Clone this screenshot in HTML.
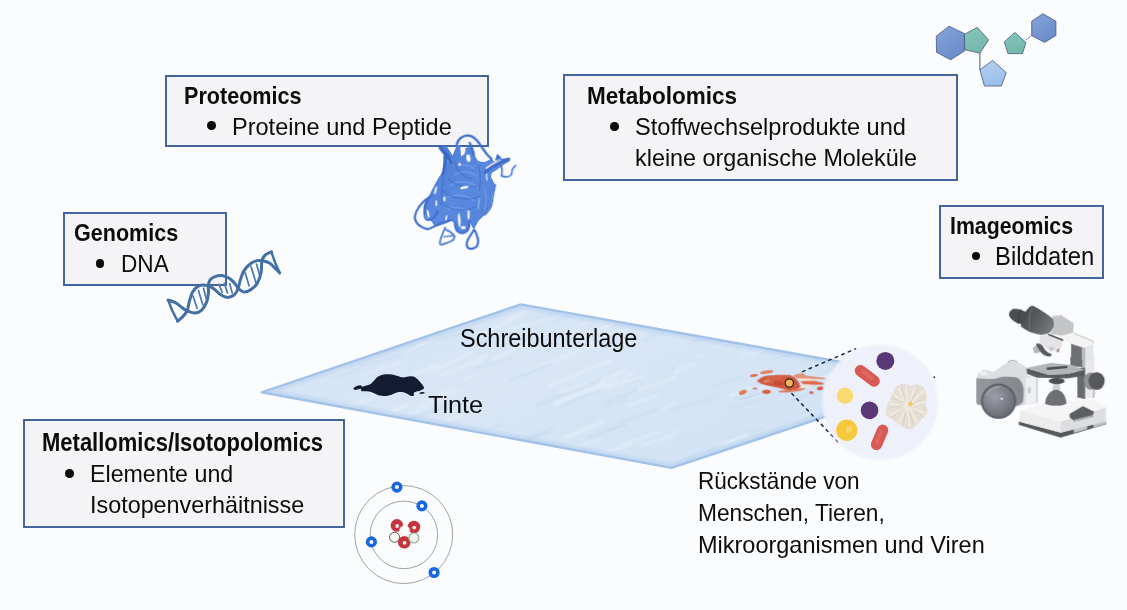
<!DOCTYPE html>
<html lang="de">
<head>
<meta charset="utf-8">
<title>Omics – Schreibunterlage</title>
<style>
html,body{margin:0;padding:0;}
body{width:1127px;height:610px;overflow:hidden;background:#fbfcfd;font-family:"Liberation Sans",sans-serif;color:#111;}
#stage{position:relative;width:1127px;height:610px;overflow:hidden;background:#fbfcfd;}
.box{position:absolute;box-sizing:border-box;border:2px solid #45659e;background:#f4f4f6;}
.t{position:absolute;white-space:nowrap;transform-origin:0 50%;color:#0c0c0c;}
.b{position:absolute;display:block;border-radius:50%;background:#0c0c0c;}
svg.art{position:absolute;left:0;top:0;width:1127px;height:610px;}
</style>
</head>
<body>
<div id="stage">
<div class="box" id="proteomics" style="left:165px;top:75px;width:324px;height:72px">
  <div class="t title" style="left:17.20px;top:7.91px;font-size:23.5px;line-height:23.5px;font-weight:bold;transform:scaleX(0.9180)">Proteomics</div>
  <i class="b" style="left:40.3px;top:44.4px;width:8.6px;height:8.6px"></i>
  <div class="t line" style="left:64.92px;top:37.58px;font-size:24px;line-height:24px;transform:scaleX(0.9803)">Proteine und Peptide</div>
</div>
<div class="box" id="genomics" style="left:63px;top:212px;width:164px;height:74px">
  <div class="t title" style="left:9.34px;top:7.71px;font-size:23.5px;line-height:23.5px;font-weight:bold;transform:scaleX(0.9164)">Genomics</div>
  <i class="b" style="left:30.5px;top:45.0px;width:8.6px;height:8.6px"></i>
  <div class="t line" style="left:55.69px;top:38.08px;font-size:24px;line-height:24px;transform:scaleX(0.9421)">DNA</div>
</div>
<div class="box" id="metabolomics" style="left:563px;top:74px;width:395px;height:107px">
  <div class="t title" style="left:21.94px;top:8.26px;font-size:24.5px;line-height:24.5px;font-weight:bold;transform:scaleX(0.9190)">Metabolomics</div>
  <i class="b" style="left:45.0px;top:46.2px;width:8.6px;height:8.6px"></i>
  <div class="t line" style="left:70.24px;top:38.88px;font-size:24px;line-height:24px;transform:scaleX(0.9827)">Stoffwechselprodukte und</div>
  <div class="t line" style="left:70.28px;top:70.28px;font-size:24px;line-height:24px;transform:scaleX(0.9738)">kleine organische Moleküle</div>
</div>
<div class="box" id="imageomics" style="left:939px;top:205px;width:165px;height:74px">
  <div class="t title" style="left:9.32px;top:8.41px;font-size:23.5px;line-height:23.5px;font-weight:bold;transform:scaleX(0.9058)">Imageomics</div>
  <i class="b" style="left:30.7px;top:44.7px;width:8.6px;height:8.6px"></i>
  <div class="t line" style="left:54.39px;top:36.94px;font-size:25px;line-height:25px;transform:scaleX(0.9530)">Bilddaten</div>
</div>
<div class="box" id="metallomics" style="left:23px;top:419px;width:322px;height:109px">
  <div class="t title" style="left:17.47px;top:8.84px;font-size:25px;line-height:25px;font-weight:bold;transform:scaleX(0.8798)">Metallomics/Isotopolomics</div>
  <i class="b" style="left:40.2px;top:48.2px;width:8.6px;height:8.6px"></i>
  <div class="t line" style="left:64.84px;top:40.88px;font-size:24px;line-height:24px;transform:scaleX(0.9668)">Elemente und</div>
  <div class="t line" style="left:65.20px;top:71.88px;font-size:24px;line-height:24px;transform:scaleX(0.9731)">Isotopenverhäitnisse</div>
</div>
<svg class="art" viewBox="0 0 1127 610" width="1127" height="610">
<defs>
  <filter id="soft" x="-10%" y="-10%" width="120%" height="120%"><feGaussianBlur stdDeviation="0.6"/></filter>
  <filter id="soft2" x="-10%" y="-10%" width="120%" height="120%"><feGaussianBlur stdDeviation="1.2"/></filter>
  <filter id="soft3" x="-20%" y="-20%" width="140%" height="140%"><feGaussianBlur stdDeviation="2.2"/></filter>
  <linearGradient id="padg" x1="0" y1="0" x2="1" y2="0.6">
    <stop offset="0" stop-color="#d4e4f5"/><stop offset="0.5" stop-color="#d8e6f6"/><stop offset="1" stop-color="#d2e3f5"/>
  </linearGradient>
  <clipPath id="padclip"><polygon points="261.7,392.3 520.7,304.4 900,372.5 900,391.8 671.6,467.9"/></clipPath>
</defs>

<!-- ===== Schreibunterlage (pad) ===== -->
<g id="pad">
  <polygon points="261.7,392.3 520.7,304.4 900,372.5 900,391.8 671.6,467.9" fill="url(#padg)"/>
  <g clip-path="url(#padclip)">
    <g stroke-linecap="round" filter="url(#soft2)">
      <g stroke="#e6f0fa" opacity="0.85"><path stroke-width="1.9" d="M480.8,334.6 L511.0,320.4"/><path stroke-width="1.7" d="M506.7,320.7 L532.2,308.5"/><path stroke-width="1.2" d="M323.3,325.6 L347.4,317.9"/><path stroke-width="1.6" d="M418.4,406.1 L459.8,390.9"/><path stroke-width="1.2" d="M885.3,319.0 L922.9,302.9"/><path stroke-width="1.9" d="M353.0,358.3 L389.0,342.1"/><path stroke-width="1.1" d="M676.1,367.9 L703.0,355.1"/><path stroke-width="1.9" d="M407.7,414.1 L431.1,404.2"/><path stroke-width="1.4" d="M561.0,357.0 L597.5,344.4"/><path stroke-width="1.5" d="M636.1,390.8 L675.5,377.5"/><path stroke-width="1.2" d="M887.7,329.7 L911.5,321.8"/><path stroke-width="1.9" d="M583.2,317.9 L615.5,307.2"/><path stroke-width="1.9" d="M822.8,359.1 L855.7,347.0"/><path stroke-width="2.1" d="M562.8,438.0 L603.9,422.0"/><path stroke-width="2.3" d="M317.6,417.2 L349.6,408.0"/><path stroke-width="1.7" d="M456.4,369.9 L487.1,355.1"/><path stroke-width="1.2" d="M384.2,329.6 L395.7,325.8"/><path stroke-width="1.7" d="M433.5,370.6 L471.0,353.0"/><path stroke-width="1.4" d="M620.7,444.5 L658.3,432.7"/><path stroke-width="1.2" d="M537.5,365.8 L577.6,354.0"/><path stroke-width="1.9" d="M389.3,346.8 L406.4,340.2"/><path stroke-width="1.9" d="M442.9,312.6 L466.1,303.1"/><path stroke-width="2.1" d="M870.9,415.6 L897.8,405.9"/><path stroke-width="2.3" d="M313.5,446.9 L349.8,435.6"/><path stroke-width="1.1" d="M523.3,371.8 L536.2,367.2"/><path stroke-width="1.1" d="M321.8,343.3 L336.4,337.2"/><path stroke-width="1.0" d="M280.1,334.7 L292.8,329.5"/><path stroke-width="1.6" d="M822.1,404.1 L836.2,398.0"/><path stroke-width="1.7" d="M505.8,330.4 L544.8,319.2"/><path stroke-width="1.4" d="M580.0,324.9 L592.6,319.6"/><path stroke-width="1.8" d="M793.9,336.2 L804.3,333.1"/><path stroke-width="2.6" d="M370.9,393.5 L381.2,389.6"/><path stroke-width="1.3" d="M815.3,416.4 L833.2,409.1"/><path stroke-width="1.4" d="M758.6,391.9 L793.7,377.2"/><path stroke-width="2.3" d="M783.1,459.7 L821.9,447.2"/><path stroke-width="1.0" d="M738.7,346.0 L765.2,335.1"/><path stroke-width="2.5" d="M297.3,353.9 L315.6,347.6"/><path stroke-width="1.6" d="M557.3,452.6 L601.0,439.6"/><path stroke-width="2.0" d="M416.7,346.0 L432.3,339.1"/><path stroke-width="2.3" d="M838.2,438.1 L863.9,429.0"/><path stroke-width="2.2" d="M332.6,411.1 L373.2,397.8"/><path stroke-width="2.3" d="M576.4,338.8 L611.8,324.0"/><path stroke-width="2.2" d="M882.4,371.4 L905.9,364.4"/><path stroke-width="2.3" d="M385.4,331.1 L400.2,326.6"/><path stroke-width="1.6" d="M370.6,436.0 L413.3,420.9"/><path stroke-width="2.0" d="M620.2,331.6 L630.3,328.7"/><path stroke-width="2.3" d="M606.5,452.0 L630.9,444.4"/><path stroke-width="1.9" d="M410.8,349.8 L429.7,341.6"/><path stroke-width="1.6" d="M440.8,374.9 L454.9,370.6"/><path stroke-width="2.5" d="M564.1,399.5 L603.6,383.7"/><path stroke-width="1.7" d="M591.0,391.8 L617.0,379.2"/><path stroke-width="1.8" d="M393.5,312.6 L428.9,296.6"/><path stroke-width="1.9" d="M729.6,395.5 L749.9,387.7"/><path stroke-width="1.4" d="M766.2,327.9 L793.9,315.9"/><path stroke-width="2.5" d="M758.8,388.2 L787.5,378.6"/><path stroke-width="2.1" d="M554.8,403.9 L581.2,393.8"/><path stroke-width="2.1" d="M560.5,392.0 L586.5,384.2"/><path stroke-width="2.5" d="M823.5,453.3 L841.6,446.6"/><path stroke-width="1.1" d="M800.8,332.6 L814.2,327.3"/><path stroke-width="2.4" d="M429.2,323.0 L461.6,312.3"/><path stroke-width="2.4" d="M375.8,419.4 L406.5,405.4"/><path stroke-width="1.8" d="M879.9,344.9 L920.9,328.3"/><path stroke-width="1.8" d="M893.7,436.9 L908.4,431.0"/><path stroke-width="1.0" d="M490.3,341.4 L510.6,334.5"/><path stroke-width="2.0" d="M623.5,378.1 L633.3,374.0"/><path stroke-width="2.6" d="M597.6,321.6 L640.8,307.5"/><path stroke-width="1.4" d="M345.0,351.8 L355.8,348.3"/><path stroke-width="1.4" d="M360.3,375.3 L401.1,362.2"/><path stroke-width="1.1" d="M372.6,449.9 L401.5,439.9"/><path stroke-width="2.5" d="M315.7,415.2 L338.6,404.4"/><path stroke-width="1.1" d="M673.4,432.2 L685.8,428.3"/><path stroke-width="2.5" d="M814.9,380.1 L835.7,372.3"/><path stroke-width="1.2" d="M446.1,331.4 L472.6,319.8"/><path stroke-width="1.5" d="M380.1,319.6 L396.0,312.8"/><path stroke-width="1.6" d="M750.9,355.5 L776.4,344.0"/><path stroke-width="1.9" d="M291.3,349.6 L301.3,346.2"/><path stroke-width="2.3" d="M397.5,383.2 L437.0,364.8"/><path stroke-width="1.8" d="M548.0,386.3 L585.1,371.2"/><path stroke-width="2.1" d="M706.4,459.4 L727.7,452.6"/><path stroke-width="1.2" d="M674.3,372.7 L694.6,363.0"/><path stroke-width="1.1" d="M323.8,423.1 L341.3,415.2"/><path stroke-width="1.4" d="M801.6,442.6 L833.0,429.1"/><path stroke-width="1.4" d="M461.7,380.9 L476.3,375.2"/><path stroke-width="2.5" d="M876.3,457.9 L903.5,446.0"/><path stroke-width="1.8" d="M471.9,365.5 L481.2,361.7"/><path stroke-width="1.4" d="M591.7,342.1 L617.0,329.8"/><path stroke-width="1.5" d="M335.6,371.9 L346.0,366.9"/><path stroke-width="2.1" d="M424.3,399.8 L451.9,390.6"/><path stroke-width="2.6" d="M723.9,443.9 L746.1,434.6"/><path stroke-width="2.3" d="M372.7,420.6 L402.6,406.3"/><path stroke-width="1.2" d="M833.0,406.1 L867.7,394.9"/><path stroke-width="2.3" d="M604.7,387.7 L642.8,375.3"/><path stroke-width="1.4" d="M642.1,445.9 L674.8,434.6"/><path stroke-width="2.3" d="M299.3,332.0 L320.2,322.3"/><path stroke-width="1.8" d="M626.3,406.2 L657.0,395.5"/><path stroke-width="1.9" d="M282.1,431.7 L316.5,418.4"/><path stroke-width="1.1" d="M688.8,321.9 L722.3,307.4"/><path stroke-width="2.6" d="M444.6,421.4 L461.1,415.9"/><path stroke-width="2.2" d="M586.2,369.4 L612.0,360.4"/><path stroke-width="1.4" d="M662.5,408.4 L674.2,403.1"/><path stroke-width="1.1" d="M740.8,357.7 L768.2,344.4"/><path stroke-width="1.5" d="M446.6,412.8 L479.6,401.3"/><path stroke-width="2.4" d="M600.3,381.7 L624.6,370.5"/><path stroke-width="1.7" d="M403.5,458.7 L442.9,439.7"/><path stroke-width="1.3" d="M788.3,457.2 L812.4,446.9"/><path stroke-width="1.8" d="M866.3,343.6 L894.4,330.7"/><path stroke-width="2.4" d="M870.7,331.9 L907.6,317.8"/><path stroke-width="1.0" d="M716.1,346.7 L755.5,331.4"/><path stroke-width="1.2" d="M282.2,385.8 L306.4,375.5"/><path stroke-width="2.2" d="M493.3,359.4 L529.4,341.8"/></g>
      <g stroke="#c3d8f0" opacity="0.8"><path stroke-width="1.3" d="M560.5,396.0 L600.8,380.2"/><path stroke-width="1.6" d="M644.2,339.7 L670.9,330.1"/><path stroke-width="1.5" d="M338.4,357.5 L351.0,353.4"/><path stroke-width="1.4" d="M306.0,459.3 L348.1,444.4"/><path stroke-width="1.0" d="M377.6,314.3 L403.9,301.8"/><path stroke-width="1.6" d="M430.0,316.5 L454.8,306.7"/><path stroke-width="1.3" d="M601.9,408.0 L628.3,398.8"/><path stroke-width="1.5" d="M452.5,461.6 L496.2,447.8"/><path stroke-width="1.6" d="M475.5,346.4 L493.9,337.7"/><path stroke-width="1.6" d="M528.2,439.0 L551.2,432.2"/><path stroke-width="1.8" d="M280.3,343.5 L320.2,327.9"/><path stroke-width="1.1" d="M526.4,323.0 L557.4,312.7"/><path stroke-width="0.9" d="M334.0,361.9 L376.4,347.8"/><path stroke-width="1.0" d="M432.8,327.2 L444.3,323.4"/><path stroke-width="0.9" d="M626.8,379.1 L642.7,373.7"/><path stroke-width="1.1" d="M679.1,329.5 L702.1,319.3"/><path stroke-width="1.0" d="M882.0,432.5 L902.0,426.3"/><path stroke-width="1.8" d="M524.5,440.2 L554.5,426.2"/><path stroke-width="1.1" d="M412.2,350.7 L447.1,336.1"/><path stroke-width="1.4" d="M325.5,325.5 L353.9,313.1"/><path stroke-width="1.4" d="M510.5,380.0 L552.0,363.9"/><path stroke-width="1.6" d="M817.2,339.4 L832.1,334.9"/><path stroke-width="1.0" d="M434.7,340.5 L469.8,330.0"/><path stroke-width="0.9" d="M869.1,444.3 L898.5,432.6"/><path stroke-width="1.1" d="M304.0,456.4 L321.6,450.4"/><path stroke-width="1.5" d="M790.7,401.5 L809.5,393.0"/><path stroke-width="1.4" d="M322.6,346.3 L351.4,337.2"/><path stroke-width="1.1" d="M453.7,449.6 L469.3,442.0"/><path stroke-width="1.4" d="M556.3,321.1 L571.5,314.9"/><path stroke-width="1.5" d="M361.6,366.3 L402.0,354.6"/><path stroke-width="0.8" d="M708.6,399.7 L722.1,393.2"/><path stroke-width="1.4" d="M844.3,417.1 L884.5,397.7"/><path stroke-width="0.9" d="M579.0,421.6 L599.6,415.7"/><path stroke-width="1.5" d="M618.6,422.6 L658.8,409.0"/><path stroke-width="1.7" d="M771.8,449.3 L793.2,441.8"/><path stroke-width="1.4" d="M820.1,374.6 L856.8,363.1"/><path stroke-width="0.9" d="M667.5,369.4 L696.6,358.8"/><path stroke-width="1.2" d="M676.4,461.0 L715.9,447.6"/><path stroke-width="0.9" d="M735.7,399.1 L760.4,391.3"/><path stroke-width="1.0" d="M745.1,316.5 L774.6,305.0"/><path stroke-width="1.1" d="M713.0,386.6 L743.7,377.3"/><path stroke-width="1.0" d="M287.0,357.2 L318.5,343.2"/><path stroke-width="1.1" d="M841.5,411.0 L866.3,403.4"/><path stroke-width="1.7" d="M692.9,341.8 L717.1,333.9"/><path stroke-width="0.9" d="M825.8,369.7 L854.3,357.6"/><path stroke-width="1.8" d="M587.8,437.6 L626.2,424.4"/><path stroke-width="1.0" d="M451.6,337.4 L475.7,327.0"/><path stroke-width="1.6" d="M536.7,405.9 L562.3,395.1"/><path stroke-width="1.7" d="M888.9,379.9 L900.3,374.4"/><path stroke-width="1.6" d="M305.7,418.3 L333.9,406.4"/><path stroke-width="1.6" d="M291.9,332.4 L315.6,320.9"/><path stroke-width="1.2" d="M427.2,333.1 L438.2,329.2"/><path stroke-width="1.5" d="M670.6,410.3 L708.1,399.2"/><path stroke-width="1.3" d="M403.6,383.3 L418.4,376.1"/><path stroke-width="1.5" d="M722.8,338.9 L741.1,331.3"/><path stroke-width="1.6" d="M602.7,404.2 L637.2,390.2"/><path stroke-width="0.9" d="M841.9,325.1 L883.1,311.1"/><path stroke-width="1.4" d="M561.2,405.8 L600.8,389.7"/><path stroke-width="1.5" d="M825.2,431.5 L866.1,415.5"/><path stroke-width="1.5" d="M407.0,420.3 L444.2,407.1"/><path stroke-width="1.3" d="M412.2,447.0 L455.7,434.3"/><path stroke-width="1.1" d="M770.3,360.1 L811.1,347.2"/><path stroke-width="1.3" d="M331.3,378.1 L359.6,368.8"/><path stroke-width="1.0" d="M297.6,433.4 L309.3,429.6"/><path stroke-width="1.3" d="M487.7,430.2 L501.4,423.9"/><path stroke-width="1.3" d="M728.6,438.0 L762.0,428.1"/><path stroke-width="1.1" d="M868.5,324.9 L885.3,318.5"/><path stroke-width="1.4" d="M731.9,407.8 L759.4,399.1"/><path stroke-width="1.0" d="M473.3,369.2 L511.9,357.4"/><path stroke-width="1.0" d="M807.5,457.3 L834.6,447.3"/></g>
    </g>
    <polygon points="261.7,392.3 520.7,304.4 900,372.5 900,391.8 671.6,467.9" fill="none" stroke="#b7d0ee" stroke-width="9" opacity="0.55" filter="url(#soft2)"/>
  </g>
  <polygon points="261.7,392.3 520.7,304.4 900,372.5 900,391.8 671.6,467.9" fill="none" stroke="#a2c2e9" stroke-width="2.4" stroke-linejoin="round"/>
</g>

<!-- ===== Tinte (ink blob) ===== -->
<g id="ink" fill="#131c32" transform="translate(340 365) scale(0.08873)">
  <path d="M150,266 C160,250 172,244 186,240 C204,234 222,226 236,230 C244,234 246,242 252,244 C268,240 284,238 300,232 C320,226 336,220 350,210 C366,198 378,184 390,170 C402,154 414,140 430,130 C446,120 462,113 480,110 C506,104 534,104 560,105 C588,108 614,114 640,120 C668,128 694,140 720,140 C744,138 766,128 790,128 C812,128 832,130 850,140 C870,154 886,172 900,190 C916,206 930,222 940,240 C946,248 948,258 945,266 C934,278 916,284 900,290 C886,294 872,294 860,300 C848,306 832,310 830,320 C830,328 838,334 835,340 C826,348 812,352 800,350 C782,342 768,328 750,320 C734,312 716,306 700,305 C680,304 660,304 640,310 C620,316 600,328 580,335 C560,342 540,348 520,350 C496,350 472,350 450,345 C428,340 410,328 390,320 C370,312 350,304 330,300 C310,296 290,296 270,295 C258,294 246,296 240,290 C234,284 240,272 235,268 C224,266 212,272 200,275 C188,278 176,284 165,280 C158,278 150,272 150,266 Z"/>
  <ellipse cx="925" cy="315" rx="30" ry="10" transform="rotate(-6 925 315)"/>
</g>

<!-- ===== blood / residue spot ===== -->
<g id="spot" transform="translate(735 360) scale(0.08873)">
  <path d="M60,450 L300,370" stroke="#aab3c4" stroke-width="5" fill="none" opacity="0.8"/>
  <g filter="url(#soft3)">
    <!-- right fingers (lighter) -->
    <path d="M650,176 C690,160 730,148 762,150 C780,158 790,170 802,176 C870,184 940,192 1012,200 C1016,206 1014,212 1008,216 C940,216 870,214 802,212 C766,210 730,206 700,204 Z" fill="#e29078"/>
    <path d="M740,236 C800,232 850,232 900,236 C936,242 970,250 1000,262 C1000,268 996,274 990,276 C944,280 896,280 850,276 C818,274 786,270 756,266 Z" fill="#dc6a4c"/>
    <path d="M490,352 C530,344 566,340 600,336 C634,330 668,322 700,320 C734,318 768,318 800,320 C782,332 762,340 740,346 C708,354 674,358 640,360 C594,366 546,368 500,366 C492,362 488,356 490,352 Z" fill="#e0805f"/>
    <path d="M700,206 C780,206 860,214 950,222 C880,232 800,236 740,238 Z" fill="#f4dccf"/>
    <path d="M740,268 C790,280 850,286 900,290 C850,306 790,316 720,322 C730,304 738,286 740,268 Z" fill="#f3e2dc" opacity="0.9"/>
    <!-- main body -->
    <path d="M245,236 C268,216 294,198 320,186 C372,176 426,172 480,170 C528,168 576,168 620,170 C640,176 652,188 662,204 C690,240 720,280 740,300 C716,318 690,330 660,332 C640,336 620,340 600,340 C572,334 546,326 520,320 C480,312 440,304 400,296 C366,288 332,280 300,270 C280,260 260,248 245,236 Z" fill="#d05a40"/>
    <path d="M330,200 C400,186 480,182 560,184 C520,210 470,236 420,262 C380,250 350,228 330,200 Z" fill="#d96a4c" opacity="0.7"/>
    <path d="M440,226 C500,232 540,252 560,286 C520,296 470,290 430,276 Z" fill="#b9472f" opacity="0.55"/>
    <path d="M650,180 C690,200 720,240 736,296 C700,290 670,260 650,180 Z" fill="#c24e3a" opacity="0.8"/>
    <ellipse cx="355" cy="238" rx="42" ry="12" fill="#e8a08a" opacity="0.7" transform="rotate(-14 355 238)"/>
    <!-- droplets -->
    <ellipse cx="357" cy="136" rx="76" ry="19" fill="#e17c5c" transform="rotate(-8 357 136)"/>
    <ellipse cx="213" cy="176" rx="46" ry="15" fill="#dd6a4a" transform="rotate(-8 213 176)"/>
    <ellipse cx="225" cy="322" rx="28" ry="10" fill="#cf6a55"/>
    <ellipse cx="88" cy="364" rx="46" ry="24" fill="#e07a56" transform="rotate(-22 88 364)"/>
    <ellipse cx="355" cy="358" rx="49" ry="24" fill="#d9603f"/>
    <ellipse cx="958" cy="320" rx="36" ry="20" fill="#d9553c" transform="rotate(-8 958 320)"/>
    <ellipse cx="862" cy="368" rx="22" ry="16" fill="#d9553c"/>
  </g>
  <circle cx="612" cy="260" r="47" fill="#f2b45c" stroke="#2a1c14" stroke-width="13" filter="url(#soft2)"/>
</g>

<!-- ===== dotted zoom lines ===== -->
<g fill="none" stroke="#1d2848" stroke-width="1.5" stroke-dasharray="2.6 4.5" stroke-linecap="round">
  <path d="M802.6,371.6 L855.7,348.8"/>
  <path d="M791.8,393.6 L837.8,441.7"/>
</g>
<circle cx="934.2" cy="377.3" r="1" fill="#2a2f55"/>

<!-- ===== magnifier circle with microbes (coords in 4.877x zoom space of region 815,340) ===== -->
<g id="lens">
  <circle cx="880.2" cy="402.4" r="57.8" fill="#eef1f9" filter="url(#soft2)"/>
  <g transform="translate(815 340) scale(0.20505)">
    <g filter="url(#soft3)">
      <circle cx="343" cy="102" r="44" fill="#5a3878"/>
      <circle cx="266" cy="343" r="43" fill="#5a3878"/>
      <circle cx="146" cy="272" r="40" fill="#f9da70"/>
      <circle cx="155" cy="440" r="52" fill="#f6c93e"/>
      <circle cx="166" cy="436" r="16" fill="#f9d868" opacity="0.8"/>
      <path d="M222,150 L288,200" stroke="#d95a55" stroke-width="56" stroke-linecap="round"/>
      <path d="M232,152 L276,186" stroke="#e27770" stroke-width="18" stroke-linecap="round" opacity="0.55"/>
      <path d="M330,440 L300,510" stroke="#d95a55" stroke-width="55" stroke-linecap="round"/>
      <path d="M322,446 L300,500" stroke="#e27770" stroke-width="16" stroke-linecap="round" opacity="0.5"/>
    </g>
    <g id="fungus">
      <path filter="url(#soft3)" fill="#e5dfd6" d="M400,225 C410,216 420,212 430,212 C444,212 456,222 470,222 C482,222 490,214 500,215 C514,218 528,228 535,240 C542,252 546,266 545,280 C544,294 538,306 540,320 C542,332 550,340 548,350 C544,364 530,374 520,385 C512,394 508,404 500,410 C490,420 482,432 470,435 C456,438 442,432 430,425 C420,418 410,412 400,405 C392,398 384,390 375,385 C366,380 354,378 350,370 C344,360 342,346 345,335 C348,322 356,312 360,300 C364,290 370,280 375,270 C380,262 380,252 385,245 C388,238 394,230 400,225 Z"/>
      <g stroke="#f3efe9" stroke-width="7" fill="none" opacity="0.9" stroke-linecap="round" filter="url(#soft2)">
        <path d="M450,318 L408,238"/><path d="M452,316 L444,226"/><path d="M456,316 L486,230"/><path d="M460,318 L526,250"/>
        <path d="M462,322 L536,300"/><path d="M460,328 L534,356"/><path d="M456,332 L500,400"/><path d="M452,334 L462,424"/>
        <path d="M448,332 L410,400"/><path d="M446,328 L362,366"/><path d="M446,322 L366,310"/><path d="M448,320 L384,262"/>
      </g>
      <g stroke="#cfc6b9" stroke-width="3" fill="none" opacity="0.8" stroke-linecap="round">
        <path d="M440,300 L424,236"/><path d="M468,300 L506,232"/><path d="M478,316 L540,276"/><path d="M476,336 L528,376"/>
        <path d="M460,346 L482,420"/><path d="M440,344 L432,416"/><path d="M430,334 L376,378"/><path d="M430,316 L356,334"/><path d="M434,306 L372,282"/>
      </g>
      <circle cx="465" cy="312" r="12" fill="#f2c872" filter="url(#soft2)"/>
    </g>
  </g>
</g>

<g id="dna" transform="translate(162 245) scale(0.13602)" fill="none" stroke="#436fa6" stroke-linecap="round" stroke-linejoin="round">
<g stroke-width="13" stroke="#4f7bb0">
<path d="M228,375 L258,465"/>
<path d="M268,335 L300,440"/>
<path d="M305,318 L326,395"/>
<path d="M420,290 L442,348"/>
<path d="M458,282 L482,352"/>
<path d="M498,285 L516,352"/>
<path d="M612,205 L640,300"/>
<path d="M655,160 L690,275"/>
<path d="M695,140 L716,215"/>
</g>
<path stroke-width="22" d="M115.0,560.0 C120.8,555.0 138.3,542.5 150.0,530.0 C161.7,517.5 176.7,503.3 185.0,485.0 C193.3,466.7 193.3,443.3 200.0,420.0 C206.7,396.7 212.5,365.3 225.0,345.0 C237.5,324.7 255.8,305.5 275.0,298.0 C294.2,290.5 321.7,295.5 340.0,300.0 C358.3,304.5 370.8,314.7 385.0,325.0 C399.2,335.3 410.0,352.0 425.0,362.0 C440.0,372.0 457.5,384.0 475.0,385.0 C492.5,386.0 515.8,378.8 530.0,368.0 C544.2,357.2 552.5,338.0 560.0,320.0 C567.5,302.0 568.0,281.7 575.0,260.0 C582.0,238.3 589.5,210.3 602.0,190.0 C614.5,169.7 633.7,150.5 650.0,138.0 C666.3,125.5 685.8,118.8 700.0,115.0 C714.2,111.2 720.0,112.2 735.0,115.0 C750.0,117.8 772.5,121.2 790.0,132.0 C807.5,142.8 827.5,167.8 840.0,180.0 C852.5,192.2 860.8,200.8 865.0,205.0"/>
<path stroke-width="22" d="M45.0,405.0 C54.2,408.3 82.5,415.5 100.0,425.0 C117.5,434.5 135.8,452.0 150.0,462.0 C164.2,472.0 170.0,478.7 185.0,485.0 C200.0,491.3 222.5,500.8 240.0,500.0 C257.5,499.2 275.3,493.3 290.0,480.0 C304.7,466.7 319.3,441.7 328.0,420.0 C336.7,398.3 340.0,370.0 342.0,350.0 C344.0,330.0 338.3,315.3 340.0,300.0 C341.7,284.7 343.7,269.3 352.0,258.0 C360.3,246.7 375.3,237.5 390.0,232.0 C404.7,226.5 421.7,222.3 440.0,225.0 C458.3,227.7 482.5,236.3 500.0,248.0 C517.5,259.7 535.0,283.0 545.0,295.0 C555.0,307.0 550.8,311.7 560.0,320.0 C569.2,328.3 585.0,343.3 600.0,345.0 C615.0,346.7 633.3,340.5 650.0,330.0 C666.7,319.5 687.0,302.8 700.0,282.0 C713.0,261.2 722.2,232.8 728.0,205.0 C733.8,177.2 729.7,137.2 735.0,115.0 C740.3,92.8 748.3,82.8 760.0,72.0 C771.7,61.2 797.5,53.7 805.0,50.0"/>
<path stroke-width="18" d="M45,405 Q70,480 115,560"/>
<path stroke-width="18" d="M805,50 Q826,126 865,205"/>
</g>
<g id="molecules" stroke="#41587c" stroke-width="0.8" stroke-linejoin="round">
  <defs>
    <linearGradient id="hexg" x1="0" y1="0" x2="0.6" y2="1"><stop offset="0" stop-color="#86a3d8"/><stop offset="1" stop-color="#6c8ccb"/></linearGradient>
    <linearGradient id="tealg" x1="0" y1="0" x2="0.4" y2="1"><stop offset="0" stop-color="#86c6ba"/><stop offset="1" stop-color="#75b8ad"/></linearGradient>
    <linearGradient id="lbg" x1="0" y1="0" x2="0.3" y2="1"><stop offset="0" stop-color="#b4d0f2"/><stop offset="1" stop-color="#9cc0ec"/></linearGradient>
  </defs>
  <path d="M979.9,53.1 L979.9,69.8" fill="none" stroke="#4a5a6c" stroke-width="1"/>
  <path d="M1026,39.9 L1031.7,35.6" fill="none" stroke="#7f8ea0" stroke-width="1"/>
  <polygon points="949,26.2 964.4,33.6 964.4,51.1 950.7,59.8 936.5,52.3 936.3,36.1" fill="url(#hexg)"/>
  <polygon points="977.4,27.4 988.6,39.9 979.9,53.1 964.9,49.8 964.4,34.4" fill="url(#tealg)"/>
  <polygon points="992.6,60.5 1006.3,72.7 1001.3,86 984.4,86 979.9,69.8" fill="url(#lbg)"/>
  <polygon points="1014.7,32.4 1026,42.4 1022.5,53.6 1008,53.6 1004.3,41.9" fill="url(#tealg)"/>
  <polygon points="1042.9,13.7 1055.9,21.2 1055.9,35.6 1044.6,42.4 1031.7,35.6 1031.7,21.2" fill="url(#hexg)"/>
</g>
<g id="atom">
<circle cx="403.7" cy="534.6" r="49" fill="none" stroke="#8c8c8c" stroke-width="0.8"/>
<circle cx="403.9" cy="534.9" r="33.8" fill="none" stroke="#8c8c8c" stroke-width="0.8"/>
<circle cx="396.9" cy="487.1" r="3.8" fill="#ffffff" stroke="#1767e0" stroke-width="3.6"/>
<circle cx="421.9" cy="505.9" r="3.8" fill="#ffffff" stroke="#1767e0" stroke-width="3.6"/>
<circle cx="371.4" cy="541.9" r="3.8" fill="#ffffff" stroke="#1767e0" stroke-width="3.6"/>
<circle cx="434.1" cy="572.5" r="3.8" fill="#ffffff" stroke="#1767e0" stroke-width="3.6"/>
<g filter="url(#soft)">
<circle cx="396.9" cy="525.4" r="6.3" fill="#c5353f"/>
<circle cx="397.2" cy="526.0" r="1.9" fill="#f4e9e6"/>
<circle cx="413.9" cy="527" r="6.3" fill="#c5353f"/>
<circle cx="414.2" cy="527.6" r="1.9" fill="#f4e9e6"/>
<circle cx="404.3" cy="542.2" r="6.3" fill="#c5353f"/>
<circle cx="404.6" cy="542.8000000000001" r="1.9" fill="#f4e9e6"/>
<circle cx="394.6" cy="537.3" r="5" fill="#f7f7f3" stroke="#4a4a3a" stroke-width="0.9"/>
<circle cx="413.9" cy="538" r="5" fill="#f3f7f0" stroke="#8fb89a" stroke-width="1.2"/>
<circle cx="404.7" cy="530.7" r="5.2" fill="#fbfbf9" stroke="#e6d6d2" stroke-width="0.6"/>
</g>
</g>
<!-- ===== protein tangle (coords in 9.382x zoom space of region 410,130) ===== -->
<g id="protein" transform="translate(410 130) scale(0.10659)" stroke-linecap="round" stroke-linejoin="round">
  <defs>
    <linearGradient id="protg" x1="0" y1="0" x2="1" y2="1"><stop offset="0" stop-color="#4a7ad4"/><stop offset="0.5" stop-color="#5a89de"/><stop offset="1" stop-color="#4f7fd8"/></linearGradient>
  </defs>
  <!-- body -->
  <path filter="url(#soft3)" fill="url(#protg)" d="M280,160 C300,150 320,148 340,150 C362,178 384,210 400,240 C412,206 426,172 440,140 C450,140 460,144 470,150 C474,184 478,218 480,250 C492,222 506,194 520,170 C540,162 560,158 580,160 C588,184 594,208 600,230 C612,252 626,272 640,290 C660,296 680,300 700,300 C720,292 742,282 760,270 C774,280 788,292 800,300 C816,290 834,280 850,270 C876,266 904,264 930,265 C934,274 936,282 935,290 C914,304 892,318 870,330 C852,344 836,356 820,370 C804,382 786,392 770,400 C764,414 760,428 760,440 C774,466 788,492 800,516 C792,550 780,584 770,616 C766,650 762,684 760,716 C742,744 722,770 700,796 C680,816 660,836 640,856 C626,882 612,910 600,936 C586,912 572,886 560,860 C556,886 550,912 545,936 C530,948 516,958 500,966 C480,962 460,954 440,946 C432,922 426,900 420,876 C406,866 394,856 380,846 C354,856 326,866 300,876 C276,884 252,890 230,896 C218,884 208,870 200,856 C182,844 166,830 150,816 C140,784 132,750 130,716 C146,682 162,648 180,616 C196,582 212,548 230,516 C246,486 262,458 280,430 C288,426 294,422 300,420 C304,390 308,360 310,330 C314,300 318,270 320,240 C306,214 292,186 280,160 Z"/>
  <!-- lighter interior texture -->
  <g fill="none" stroke="#7ea6ea" stroke-width="14" opacity="0.55" filter="url(#soft3)">
    <path d="M420,420 C470,380 560,380 620,430"/>
    <path d="M380,520 C430,470 560,470 640,540"/>
    <path d="M340,640 C400,600 520,600 600,660"/>
    <path d="M360,740 C420,720 500,730 560,770"/>
    <path d="M460,330 C500,320 560,330 600,360"/>
    <path d="M700,560 C720,620 720,680 700,740"/>
  </g>
  <g fill="none" stroke="#3c6ccc" stroke-width="12" opacity="0.55" filter="url(#soft2)">
    <path d="M360,460 C420,520 540,560 660,520"/>
    <path d="M300,560 C380,640 520,680 660,620"/>
    <path d="M280,680 C360,740 480,780 620,720"/>
    <path d="M420,300 C440,380 500,440 580,460"/>
    <path d="M640,330 C660,400 670,480 650,560"/>
    <path d="M320,440 C300,520 290,600 300,680"/>
  </g>
  <!-- holes (background showing through) -->
  <g fill="#f6f8fc" filter="url(#soft3)">
    <ellipse cx="500" cy="205" rx="17" ry="36" transform="rotate(18 500 205)"/>
    <ellipse cx="548" cy="264" rx="20" ry="36" transform="rotate(-8 548 264)"/>
    <ellipse cx="465" cy="322" rx="12" ry="15"/>
    <ellipse cx="362" cy="286" rx="8" ry="22"/>
    <path d="M640,236 C670,226 710,236 750,262 C730,280 700,292 676,290 C660,276 648,256 640,236 Z"/>
    <ellipse cx="832" cy="398" rx="22" ry="28" transform="rotate(20 832 398)"/>
    <ellipse cx="240" cy="566" rx="9" ry="40" transform="rotate(14 240 566)"/>
    <ellipse cx="322" cy="646" rx="10" ry="24"/>
    <ellipse cx="246" cy="686" rx="8" ry="30"/>
    <ellipse cx="170" cy="786" rx="10" ry="38" transform="rotate(-12 170 786)"/>
    <ellipse cx="340" cy="826" rx="8" ry="28" transform="rotate(10 340 826)"/>
    <ellipse cx="462" cy="846" rx="12" ry="66" transform="rotate(-4 462 846)"/>
    <ellipse cx="550" cy="796" rx="10" ry="44"/>
    <ellipse cx="500" cy="916" rx="24" ry="16"/>
  </g>
  <!-- highlights -->
  <g filter="url(#soft3)">
    <ellipse cx="510" cy="540" rx="40" ry="13" fill="#eef4fd" transform="rotate(-14 510 540)"/>
    <path d="M720,356 C760,324 800,304 850,290" stroke="#f7ebe4" stroke-width="18" fill="none"/>
    <path d="M716,400 L722,468" stroke="#e6eefb" stroke-width="12" fill="none"/>
    <path d="M650,646 L640,736" stroke="#a9c3f0" stroke-width="12" fill="none" opacity="0.8"/>
  </g>
  <!-- outer loops / strands -->
  <g fill="none" stroke="#3d6ecf" filter="url(#soft2)">
    <path stroke-width="22" d="M440,135 C450,80 500,50 545,50 C600,55 640,100 680,170 C710,220 740,250 765,270"/>
    <path stroke-width="20" d="M560,120 C580,160 596,200 600,236"/>
    <path stroke-width="34" stroke="#3a68c6" d="M284,164 C300,190 320,210 340,230 C360,260 372,280 380,300"/>
    <path stroke-width="24" stroke="#3a68c6" d="M326,244 C332,290 328,340 318,380 C312,400 306,412 300,422"/>
    <path stroke-width="20" d="M200,616 C130,660 60,716 45,816 C50,880 100,916 170,931 C200,920 230,896 300,876 C330,866 360,856 380,846"/>
    <path stroke-width="20" d="M170,646 C140,690 125,740 140,816 C150,850 190,856 230,816 C245,790 255,780 260,766"/>
    <path stroke-width="17" stroke="#4b7bd8" d="M330,916 C310,960 290,1010 280,1056 C282,1072 290,1078 300,1074 C340,1064 380,1046 400,1036 C415,1020 420,1006 420,996 C400,970 370,946 340,936"/>
    <path stroke-width="13" stroke="#4b7bd8" d="M318,1000 L404,992"/>
    <path stroke-width="20" d="M600,936 C580,976 550,1006 540,1036 C528,1066 530,1096 550,1110 C580,1122 620,1106 630,1086 C645,1056 640,1016 625,980 C618,960 612,950 610,946"/>
    <path stroke-width="20" d="M420,876 C425,910 430,936 440,946 C460,966 480,970 500,966 C525,960 540,946 545,936 C555,916 560,886 560,856"/>
    <path stroke-width="30" d="M704,398 C740,370 780,340 800,330 C850,300 890,280 926,274"/>
    <path stroke-width="10" fill="#3d6ecf" d="M820,230 L852,262 L804,282 Z"/>
    <path stroke-width="16" stroke="#4b7bd8" d="M990,335 C975,350 962,366 960,372 C955,390 955,410 950,420 C935,436 915,442 900,440 C885,438 870,434 860,430"/>
    <path stroke-width="16" d="M856,330 C866,360 868,390 860,428"/>
    <path stroke-width="18" stroke="#4b7bd8" d="M800,516 C790,560 776,620 768,690 C760,730 730,770 700,796"/>
  </g>
</g>

<!-- ===== camera + microscope ===== -->
<g id="scope">
  <defs>
    <radialGradient id="camlens" cx="0.38" cy="0.35" r="0.75"><stop offset="0" stop-color="#9c9fa7"/><stop offset="0.55" stop-color="#7e8189"/><stop offset="1" stop-color="#64676e"/></radialGradient>
    <linearGradient id="barrel" x1="0" y1="0" x2="1" y2="0.5"><stop offset="0" stop-color="#46484b"/><stop offset="0.55" stop-color="#595b5e"/><stop offset="1" stop-color="#737578"/></linearGradient>
    <linearGradient id="cambody" x1="0" y1="0" x2="1" y2="0"><stop offset="0" stop-color="#96989e"/><stop offset="1" stop-color="#85878d"/></linearGradient>
  </defs>
  <!-- lower part: coords in 7.173x zoom space of region (970,360) -->
  <g transform="translate(970 360) scale(0.13941)" filter="url(#soft3)">
    <!-- camera -->
    <g id="camera">
      <path d="M45,130 C50,100 70,80 100,70 C124,66 148,86 170,85 C198,68 224,46 250,30 C262,20 276,12 290,10 C312,8 334,12 350,20 C370,28 390,36 400,50 C408,70 410,90 412,112 L476,130 L476,312 L400,322 L330,332 L60,322 C50,318 46,310 45,300 Z" fill="#dcdde0"/>
      <path d="M45,132 C86,134 128,138 170,135 C192,132 210,122 230,120 C264,118 298,120 330,125 C348,132 362,144 370,160 C380,178 384,198 385,220 C386,246 384,274 380,300 C368,316 350,326 330,330 L60,322 C50,318 46,310 45,300 Z" fill="url(#cambody)"/>
      <path d="M400,122 L476,132 L476,312 L400,322 Z" fill="#eeeff0"/>
      <path d="M476,132 L486,134 L486,306 L476,312 Z" fill="#c9cacd"/>
      <rect x="417" y="196" width="17" height="42" rx="6" fill="#b6c6d8"/>
      <ellipse cx="100" cy="98" rx="26" ry="16" fill="#eff0f2"/>
      <path d="M272,14 C290,-2 320,-2 340,14" stroke="#a9abb0" stroke-width="8" fill="none"/>
      <circle cx="205" cy="295" r="127" fill="#5f6269"/>
      <circle cx="205" cy="295" r="112" fill="url(#camlens)"/>
      <path d="M120,250 C140,214 176,192 216,190" stroke="#b4b7be" stroke-width="10" fill="none" opacity="0.6" stroke-linecap="round"/>
      <circle cx="228" cy="278" r="7.5" fill="#f6f7f9"/>
    </g>
    <!-- base -->
    <g id="base">
      <path d="M350,440 L650,520 L975,440 L975,462 L650,556 L350,466 Z" fill="#56585c"/>
      <path d="M745,497 L840,472 L840,496 L745,523 Z" fill="#c7c8cb"/>
      <path d="M885,462 L975,440 L975,458 L885,484 Z" fill="#bfc0c3"/>
      <path d="M360,362 L650,440 L650,521 L350,441 Z" fill="#ededee"/>
      <path d="M650,440 L975,340 L975,441 L650,521 Z" fill="#dddee1"/>
      <path d="M360,362 L530,310 L880,280 L975,330 L975,342 L650,441 Z" fill="#f5f5f6"/>
      <path d="M715,386 L810,330 L890,370 L882,396 L740,431 L715,411 Z" fill="#5c5e62"/>
      <path d="M740,431 L882,396 L884,408 L742,444 Z" fill="#a5a6a9"/>
    </g>
    <!-- arm lower -->
    <path d="M825,-10 L892,-30 L892,268 L825,278 Z" fill="#e9e9eb"/>
    <path d="M770,60 L826,50 L826,280 L770,268 Z" fill="#696b6f"/>
    <path d="M720,-20 L812,-20 L812,52 L720,40 Z" fill="#6e7073"/><path d="M806,-20 L826,-20 L826,52 L806,52 Z" fill="#b9babd"/>
    <!-- condenser -->
    <path d="M538,312 C544,252 580,216 615,210 C660,214 690,260 692,312 C660,332 580,334 538,312 Z" fill="#6d6f73"/>
    <path d="M598,168 L642,168 L650,214 L590,214 Z" fill="#cfd0d2"/>
    <ellipse cx="622" cy="150" rx="58" ry="22" fill="#4d4f53"/>
    <!-- stage -->
    <path d="M405,58 L560,104 L700,100 L822,70 L822,112 L700,132 L480,126 L410,100 Z" fill="#595b5f"/>
    <path d="M405,56 L580,20 L730,34 L822,70 L700,100 L560,104 Z" fill="#b4b5b8"/>
    <path d="M558,62 L690,50" stroke="#47494d" stroke-width="17" stroke-linecap="round"/>
    <!-- focus knob -->
    <ellipse cx="866" cy="150" rx="50" ry="62" fill="#8f9195"/>
    <ellipse cx="908" cy="150" rx="58" ry="64" fill="#56585c"/>
    <path d="M890,215 C892,240 890,258 884,272" stroke="#6a6c70" stroke-width="5" fill="none"/>
  </g>
  <!-- upper part: coords in 7.175x zoom space of region (1000,295) -->
  <g transform="translate(1000 295) scale(0.13937)" filter="url(#soft3)">
    <!-- arm upper -->
    <path d="M610,376 L670,346 L670,470 L610,470 Z" fill="#e4e5e7"/>
    <path d="M510,350 L600,378 L600,470 L510,470 Z" fill="#6e7073"/>
    <path d="M586,376 L612,376 L612,470 L586,470 Z" fill="#b9babd"/>
    <path d="M440,292 L530,276 L666,330 L670,346 L602,378 L500,342 L450,322 Z" fill="#f4f4f5"/>
    <path d="M530,276 L666,330 L670,346" stroke="#8d8f93" stroke-width="4" fill="none"/>
    <!-- head -->
    <path d="M375,150 L440,145 L530,205 L525,270 L440,292 L360,280 L386,230 Z" fill="#c4c5c7"/>
    <!-- nosepiece -->
    <path d="M290,290 L350,280 L450,322 L440,380 L400,400 L340,390 L280,340 Z" fill="#e4e4e6"/>
    <path d="M350,284 L450,324" stroke="#303234" stroke-width="9" stroke-linecap="round"/>
    <!-- objectives -->
    <path d="M236,384 C244,366 262,360 278,368 L292,400 C282,418 258,424 244,412 Z" fill="#b5b6b9"/>
    <path d="M256,352 C276,340 300,352 312,376 C324,400 348,416 372,424 C372,440 350,446 330,438 C304,428 286,408 276,386 C270,372 258,366 256,352 Z" fill="#595b5e"/>
    <path d="M352,376 C366,366 384,372 388,386 C386,400 370,408 356,402 Z" fill="#c9cacc"/>
    <path d="M404,392 L428,384 L424,408 L408,412 Z" fill="#7b4a4a" opacity="0.6"/>
    <!-- eyepiece -->
    <path d="M215,82 C224,78 232,76 240,78 C290,104 338,136 380,170 C386,190 388,210 385,230 C376,248 364,264 350,275 C330,282 310,286 290,285 C264,280 238,274 215,265 C192,254 170,240 150,225 C150,196 158,166 170,140 C182,118 198,98 215,82 Z" fill="url(#barrel)"/>
    <path d="M232,92 C214,130 204,176 212,252" stroke="#7d8286" stroke-width="6" fill="none" opacity="0.7"/>
    <path d="M70,120 C80,106 90,100 100,98 C118,98 134,100 150,105 C168,112 184,120 200,130 C192,154 182,178 170,200 C158,206 144,208 130,205 C114,196 98,186 85,175 C76,166 68,156 65,145 C64,136 66,128 70,120 Z" fill="#4b4d50"/>
    <path d="M150,104 C140,130 132,166 130,204" stroke="#3c3e41" stroke-width="8" fill="none"/>
  </g>
</g>

</svg>

<div class="t label" style="left:460.34px;top:325.94px;font-size:25px;line-height:25px;transform:scaleX(0.9382)">Schreibunterlage</div>
<div class="t label" style="left:427.50px;top:393.18px;font-size:24px;line-height:24px;transform:scaleX(1.0495)">Tinte</div>
<div class="t label" style="left:698.00px;top:469.28px;font-size:24px;line-height:24px;transform:scaleX(0.9389)">Rückstände von</div>
<div class="t label" style="left:697.98px;top:500.98px;font-size:24px;line-height:24px;transform:scaleX(0.9460)">Menschen, Tieren,</div>
<div class="t label" style="left:697.92px;top:532.68px;font-size:24px;line-height:24px;transform:scaleX(0.9784)">Mikroorganismen und Viren</div>
</div>
</body>
</html>
